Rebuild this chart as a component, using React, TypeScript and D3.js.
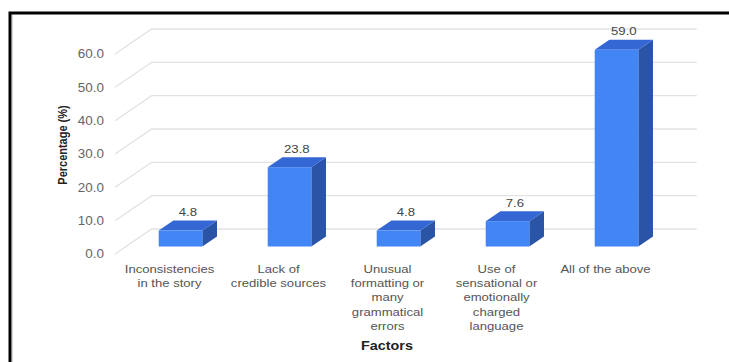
import React from "react";
import * as d3 from "d3";

// Survey factors and the share of respondents choosing each
const categories = [
  "Inconsistencies in the story",
  "Lack of credible sources",
  "Unusual formatting or many grammatical errors",
  "Use of sensational or emotionally charged language",
  "All of the above",
];
const percentages = [4.8, 23.8, 4.8, 7.6, 59.0];
const categoryTickLines = [
  ["Inconsistencies", "in the story"],
  ["Lack of", "credible sources"],
  ["Unusual", "formatting or", "many", "grammatical", "errors"],
  ["Use of", "sensational or", "emotionally", "charged", "language"],
  ["All of the above"],
];
const yTicks = [0, 10, 20, 30, 40, 50, 60];
const yTitle = "Percentage (%)";
const xTitle = "Factors";

const W = 729;
const H = 362;
const FONT = "'Liberation Sans', Arial, Helvetica, sans-serif";

// depth projection of the 3D floor: z in [0,1]
const DEPTH_DX = 36.7;
const DEPTH_DY = -25;
const ox = (z: number) => z * DEPTH_DX;
const oy = (z: number) => z * DEPTH_DY;
const BAR_Z0 = 0.3;
const BAR_Z1 = 0.7;

const x = d3
  .scaleBand<string>()
  .domain(categories)
  .range([115, 660])
  .paddingInner(0.6)
  .paddingOuter(0.3);
const y = d3.scaleLinear().domain([0, 60]).range([254, 54]);

const FRONT = "#4285f4";
const TOP = "#3467d4";
const SIDE = "#2a55a6";
const GRID = "#e2e2e2";

const fmt = d3.format(".1f");

function StretchText(props: {
  x: number;
  y: number;
  sx?: number;
  anchor?: string;
  size: number;
  weight?: string | number;
  fill: string;
  children: React.ReactNode;
}) {
  const { sx = 1.16, anchor = "middle", size, weight = "normal", fill } = props;
  return (
    <text
      transform={`translate(${props.x},${props.y}) scale(${sx},1)`}
      textAnchor={anchor}
      fontFamily={FONT}
      fontSize={size}
      fontWeight={weight}
      fill={fill}
    >
      {props.children}
    </text>
  );
}

export default function App() {
  const step = x.step();
  const bw = x.bandwidth();
  const left = x.range()[0];
  const right = x.range()[1];
  const ddx = ox(BAR_Z1) - ox(BAR_Z0);
  const ddy = oy(BAR_Z1) - oy(BAR_Z0);

  return (
    <svg
      width={W}
      height={H}
      style={{ position: "fixed", left: 0, top: 0, background: "#fff" }}
    >
      <rect x={0} y={0} width={W} height={H} fill="#fff" />
      {/* outer frame */}
      <rect x={10} y={13} width={740} height={380} fill="none" stroke="#000" strokeWidth={3} />
      <line x1={12.5} y1={15} x2={12.5} y2={H} stroke="#d8d8d8" strokeWidth={1} />

      {/* gridlines: front diagonal then back wall */}
      {yTicks.map((t) => (
        <g key={t}>
          <path
            d={`M${left},${y(t)} L${left + ox(1)},${y(t) + oy(1)} L${right + ox(1)},${y(t) + oy(1)}`}
            fill="none"
            stroke={GRID}
            strokeWidth={1.3}
          />
          <StretchText x={104} y={y(t) + 4.3} anchor="end" size={12} sx={1.12} fill="#666">
            {fmt(t)}
          </StretchText>
        </g>
      ))}

      {/* bars */}
      {categories.map((c, i) => {
        const v = percentages[i];
        const x0 = (x(c) as number) + ox(BAR_Z0);
        const x1 = x0 + bw;
        const yt = y(v) + oy(BAR_Z0);
        const yb = y(0) + oy(BAR_Z0);
        return (
          <g key={c}>
            <polygon
              points={`${x1},${yt} ${x1 + ddx},${yt + ddy} ${x1 + ddx},${yb + ddy} ${x1},${yb}`}
              fill={SIDE}
            />
            <polygon
              points={`${x0},${yt} ${x1},${yt} ${x1 + ddx},${yt + ddy} ${x0 + ddx},${yt + ddy}`}
              fill={TOP}
            />
            <rect x={x0} y={yt} width={bw} height={yb - yt} fill={FRONT} />
            <StretchText
              x={(x(c) as number) + bw / 2 + ox(0.5)}
              y={y(v) + oy(BAR_Z1) - 4.5}
              size={11}
              sx={1.2}
              fill="#444"
            >
              {fmt(v)}
            </StretchText>
          </g>
        );
      })}

      {/* category tick labels */}
      {categories.map((c, i) => {
        const cx = (x(c) as number) + bw / 2;
        return (
          <g key={"lab" + c}>
            {categoryTickLines[i].map((line, j) => (
              <StretchText key={j} x={cx} y={273 + j * 14.2} size={11.3} sx={1.16} fill="#555">
                {line}
              </StretchText>
            ))}
          </g>
        );
      })}

      {/* axis titles */}
      <StretchText x={387} y={349.5} size={12.5} sx={1.15} weight="bold" fill="#222">
        {xTitle}
      </StretchText>
      <text
        transform={`translate(67,145) scale(1.15,1) rotate(-90)`}
        textAnchor="middle"
        fontFamily={FONT}
        fontSize={11}
        fontWeight="bold"
        fill="#222"
      >
        {yTitle}
      </text>
    </svg>
  );
}
